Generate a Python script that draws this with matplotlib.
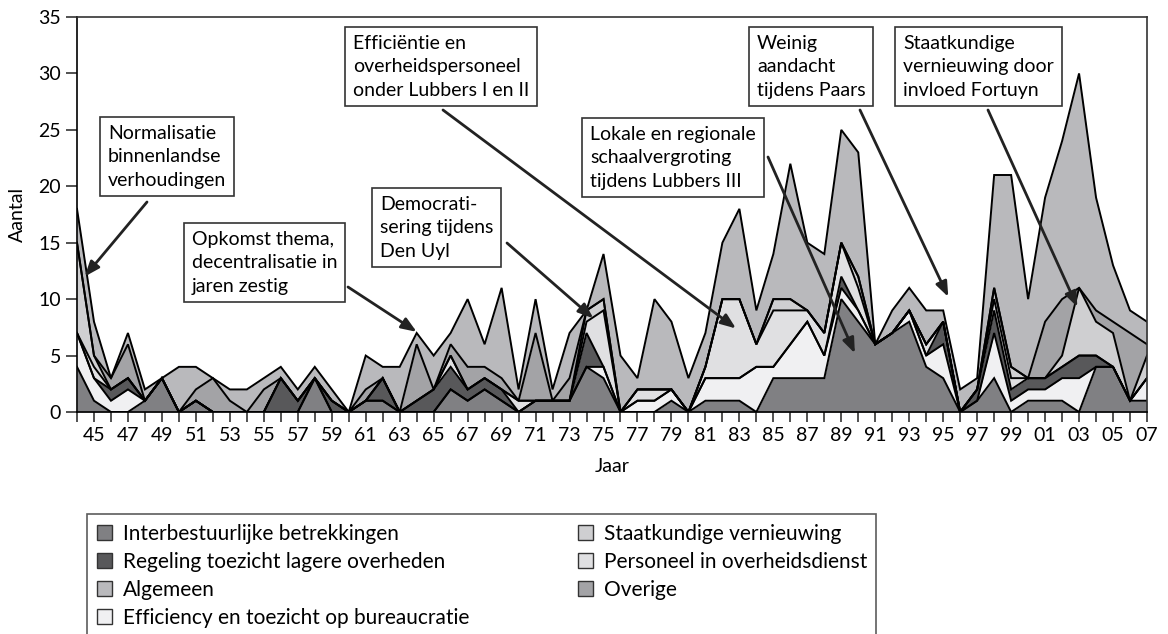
import numpy as np
import matplotlib
matplotlib.use('Agg')
import matplotlib.pyplot as plt
from matplotlib.patches import Patch

plt.rcParams['font.family'] = ['Lato', 'DejaVu Sans']

years = list(range(1944, 2008))

# stacked from bottom to top; rows: 1944-60, 1961-76, 1977-92, 1993-2007
interbestuurlijk = [4, 1, 0, 0, 1, 3, 0, 1, 0, 0, 0, 0, 0, 0, 3, 0, 0,
                    1, 1, 0, 0, 0, 2, 1, 2, 1, 0, 1, 1, 1, 4, 3, 0,
                    0, 0, 1, 0, 1, 1, 1, 0, 3, 3, 3, 3, 10, 8, 6, 7,
                    8, 4, 3, 0, 1, 3, 0, 1, 1, 1, 0, 4, 4, 1, 1]
efficiency = [3, 2, 1, 2, 0, 0, 0, 0, 0, 0, 0, 0, 0, 0, 0, 0, 0,
              0, 0, 0, 0, 0, 0, 0, 0, 0, 0, 0, 0, 0, 0, 1, 0,
              1, 1, 1, 0, 2, 2, 2, 4, 1, 3, 5, 2, 1, 1, 0, 0,
              1, 1, 3, 0, 0, 4, 1, 1, 1, 2, 3, 0, 0, 0, 2]
regeling = [0, 0, 1, 1, 0, 0, 0, 0, 0, 0, 0, 0, 3, 1, 0, 1, 0,
            0, 2, 0, 1, 2, 2, 1, 1, 1, 0, 0, 0, 0, 3, 0, 0,
            0, 0, 0, 0, 0, 0, 0, 0, 0, 0, 0, 0, 1, 0, 0, 0,
            0, 0, 2, 0, 1, 2, 1, 1, 1, 1, 2, 1, 0, 0, 0]
personeel = [0, 1, 0, 0, 0, 0, 0, 0, 0, 0, 0, 0, 0, 0, 0, 0, 0,
             0, 0, 0, 0, 0, 1, 0, 0, 0, 1, 0, 0, 0, 1, 5, 0,
             1, 1, 0, 0, 1, 7, 7, 2, 5, 3, 1, 2, 3, 2, 0, 0,
             0, 1, 0, 0, 0, 1, 1, 0, 0, 0, 0, 0, 0, 0, 0]
staatkundig = [8, 1, 0, 0, 0, 0, 0, 0, 0, 0, 0, 0, 0, 0, 0, 0, 0,
               0, 0, 0, 0, 0, 0, 0, 0, 0, 0, 0, 0, 0, 1, 1, 0,
               0, 0, 0, 0, 0, 0, 0, 0, 1, 1, 0, 0, 0, 1, 0, 0,
               0, 0, 0, 0, 0, 1, 1, 0, 0, 1, 6, 3, 3, 0, 2]
overige = [0, 0, 1, 3, 0, 0, 0, 1, 3, 1, 0, 2, 0, 0, 0, 0, 0,
           1, 0, 0, 5, 0, 1, 2, 1, 1, 0, 6, 0, 2, 0, 0, 0,
           0, 0, 0, 0, 0, 0, 0, 0, 0, 0, 0, 0, 0, 0, 0, 0,
           0, 0, 0, 0, 0, 0, 0, 0, 5, 5, 0, 1, 1, 6, 1]
algemeen = [3, 3, 0, 1, 1, 0, 4, 2, 0, 1, 2, 1, 1, 1, 1, 1, 0,
            3, 1, 4, 1, 3, 1, 6, 2, 8, 1, 3, 1, 4, 0, 4, 5,
            1, 8, 6, 3, 3, 5, 8, 3, 4, 12, 6, 7, 10, 11, 0, 2,
            2, 3, 1, 2, 1, 10, 17, 7, 11, 14, 19, 10, 5, 2, 2]

series = [interbestuurlijk, efficiency, regeling, personeel, staatkundig, overige, algemeen]
colours = ['#808083', '#f0f0f2', '#58585a', '#e0e0e2', '#cfcfd1', '#a3a3a6', '#b9b9bc']

fig = plt.figure(figsize=(11.68, 6.34), dpi=100)
ax = fig.add_axes([77/1168, 1-412/634, 1070/1168, 395/634])

x = np.arange(len(years))
base = np.zeros(len(years))
for vals, col in zip(series, colours):
    top = base + np.array(vals)
    ax.fill_between(x, base, top, color=col, lw=0)
    base = top
# outlines
base = np.zeros(len(years))
for vals in series:
    base = base + np.array(vals)
    ax.plot(x, base, color='black', lw=1.4, solid_joinstyle='miter')

ax.set_xlim(0, len(years) - 1)
ax.set_ylim(0, 35)
ax.set_yticks(range(0, 36, 5))
ax.set_xticks(x)
ax.set_xticklabels([str(y)[2:] if (y - 1945) % 2 == 0 else '' for y in years])
ax.tick_params(axis='both', labelsize=14, length=8, width=1.2, direction='out', color='#333333')
ax.tick_params(axis='x', length=7, pad=4)
for s in ax.spines.values():
    s.set_linewidth(1.2)
ax.spines['top'].set_color('#333333')
ax.spines['right'].set_color('#333333')
ax.set_ylabel('Aantal', fontsize=14, labelpad=9)
ax.set_xlabel('Jaar', fontsize=14, labelpad=10)


def px(xp, yp):
    return (xp / 1168, 1 - yp / 634)


# annotations: text, arrow tip (data), box corner (pixels), arrow start (pixels)
notes = [
    ('Normalisatie\nbinnenlandse\nverhoudingen', (0.45, 12.0), (98, 117), (147, 202)),
    ('Opkomst thema,\ndecentralisatie in\njaren zestig', (20.0, 7.1), (182, 223), (348, 287)),
    ('Democrati-\nsering tijdens\nDen Uyl', (30.4, 8.3), (370, 188), (507, 243)),
    ('Efficiëntie en\noverheidspersoneel\nonder Lubbers I en II', (38.8, 7.4), (343, 27), (443, 110)),
    ('Lokale en regionale\nschaalvergroting\ntijdens Lubbers III', (45.8, 5.2), (580, 118), (768, 157)),
    ('Weinig\naandacht\ntijdens Paars', (51.3, 10.2), (747, 27), (860, 110)),
    ('Staatkundige\nvernieuwing door\ninvloed Fortuyn', (58.9, 9.3), (893, 27), (988, 110)),
]
for txt, tip, corner, start in notes:
    ax.annotate('', xy=tip, xycoords='data', xytext=px(*start), textcoords='figure fraction',
                arrowprops=dict(arrowstyle='-|>,head_length=0.9,head_width=0.35',
                                color='#222222', lw=2, shrinkA=0, shrinkB=0))
    fig.text(*px(corner[0] + 10, corner[1] + 8), txt, fontsize=14, ha='left', va='top',
             linespacing=1.45,
             bbox=dict(boxstyle='square,pad=0.4', fc='white', ec='#333333', lw=1.2))

labels = ['Interbestuurlijke betrekkingen', 'Regeling toezicht lagere overheden',
          'Algemeen', 'Efficiency en toezicht op bureaucratie',
          'Staatkundige vernieuwing', 'Personeel in overheidsdienst', 'Overige']
leg_cols = ['#808083', '#58585a', '#b9b9bc', '#f0f0f2', '#cfcfd1', '#e0e0e2', '#a3a3a6']
handles = [Patch(fc=c, ec='#333333', lw=1) for c in leg_cols]
leg = fig.legend(handles, labels, ncol=2, loc='upper left',
                 bbox_to_anchor=px(77, 504), fontsize=15, frameon=True,
                 fancybox=False, edgecolor='#333333', handlelength=0.75, handleheight=0.75,
                 handletextpad=0.5, columnspacing=5.2, labelspacing=0.38, borderpad=0.45)
leg.get_frame().set_linewidth(1.2)

fig.savefig('out.png', dpi=100)
